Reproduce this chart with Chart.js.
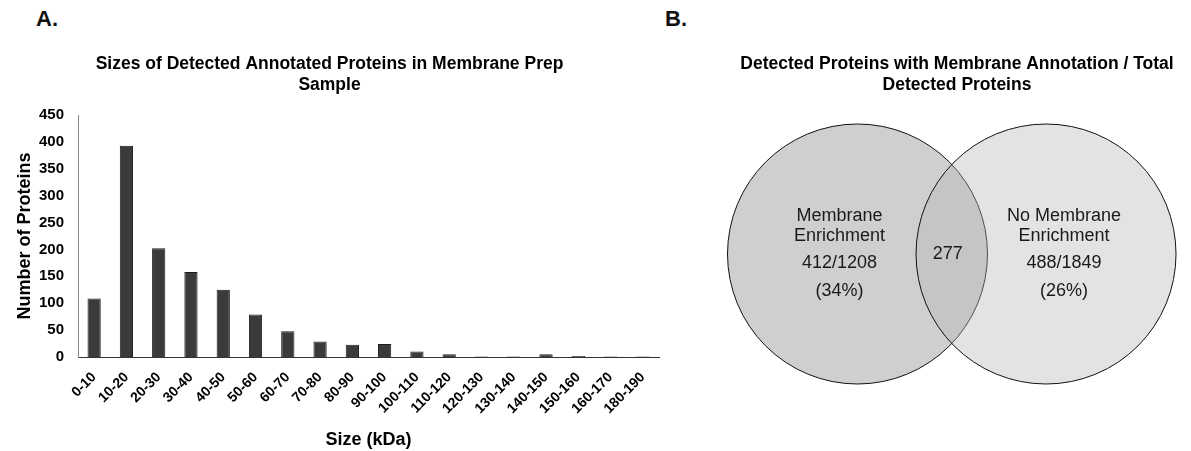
<!DOCTYPE html>
<html lang="en">
<head>
<meta charset="UTF-8">
<title>Membrane prep proteins</title>
<script src="https://cdn.jsdelivr.net/npm/chart.js"></script>
<style>
  body { margin: 0; background: #fff; width: 1191px; height: 451px; position: relative; overflow: hidden; font-family: "Liberation Sans", Arial, sans-serif; }
  .panel { position: absolute; font-weight: bold; font-size: 22px; color: #111; line-height: 26px; }
  #boxA { position: absolute; left: 0; top: 0; width: 700px; height: 451px; }
  #boxB { position: absolute; left: 700px; top: 0; width: 491px; height: 451px; }
</style>
</head>
<body>
<div class="panel" style="left:36px; top:6px;">A.</div>
<div class="panel" style="left:665px; top:6px;">B.</div>
<div id="boxA"><canvas id="barChart"></canvas></div>
<div id="boxB"><canvas id="vennChart"></canvas></div>

<script>
// --- panel A: protein size histogram
const sizeBins = ['0-10', '10-20', '20-30', '30-40', '40-50', '50-60', '60-70', '70-80', '80-90',
                  '90-100', '100-110', '110-120', '120-130', '130-140', '140-150', '150-160', '160-170', '180-190'];
const proteinCounts = [109, 393, 202, 158, 125, 79, 48, 29, 23, 24, 10, 5, 1, 1, 5, 2, 1, 1];
const countTicks = [0, 50, 100, 150, 200, 250, 300, 350, 400, 450];

// --- panel B: venn diagram
const vennNames = [['Membrane', 'Enrichment'], ['No Membrane', 'Enrichment']];
const vennFractions = ['412/1208', '488/1849'];
const vennPercents = ['(34%)', '(26%)'];
const vennOverlap = '277';

const FONT = '"Liberation Sans", Arial, Helvetica, sans-serif';
Chart.defaults.font.family = FONT;
Chart.defaults.color = '#000';

new Chart(document.getElementById('barChart'), {
    type: 'bar',
    data: {
        labels: sizeBins,
        datasets: [{
            data: proteinCounts,
            backgroundColor: '#3a3a3a',
            borderColor: '#1c1c1c',
            borderWidth: 1,
            barPercentage: 0.41,
            categoryPercentage: 1
        }]
    },
    options: {
        responsive: true,
        maintainAspectRatio: false,
        animation: false,
        events: [],
        layout: { padding: { left: 0, right: 41, top: 0, bottom: 0 } },
        plugins: {
            legend: { display: false },
            tooltip: { enabled: false },
            title: {
                display: true,
                text: ['Sizes of Detected Annotated Proteins in Membrane Prep', 'Sample'],
                font: { size: 17.5, weight: 'bold' },
                lineHeight: 1.143,
                color: '#000',
                padding: { top: 54, bottom: 19 }
            }
        },
        scales: {
            x: {
                grid: { display: false, drawTicks: false },
                border: { display: true, color: '#333', width: 1 },
                ticks: { maxRotation: 45, minRotation: 45, autoSkip: false, padding: 12,
                         font: { size: 14, weight: 'bold' } },
                title: { display: true, text: 'Size (kDa)', font: { size: 18, weight: 'bold' }, padding: { top: 4, bottom: 0 } },
                afterFit: s => { s.height = 94; }
            },
            y: {
                min: 0, max: 450,
                grid: { display: false, drawTicks: false },
                border: { display: true, color: '#888', width: 1 },
                afterBuildTicks: s => { s.ticks = countTicks.map(v => ({ value: v })); },
                ticks: { padding: 14, font: { size: 15, weight: 'bold' } },
                title: { display: true, text: 'Number of Proteins', font: { size: 18, weight: 'bold' }, padding: { top: 14, bottom: 0 } },
                afterFit: s => { s.width = 78; }
            }
        }
    }
});

// labels inside the venn circles, placed from the bubble positions
const vennText = {
    id: 'vennText',
    afterDatasetsDraw(chart) {
        const ctx = chart.ctx;
        const pts = chart.getDatasetMeta(0).data;
        ctx.save();
        ctx.fillStyle = '#1a1a1a';
        ctx.font = '18px ' + FONT;
        ctx.textAlign = 'center';
        ctx.textBaseline = 'middle';
        pts.forEach((p, i) => {
            const dx = i === 0 ? -18 : 18;
            ctx.fillText(vennNames[i][0], p.x + dx, p.y - 38);
            ctx.fillText(vennNames[i][1], p.x + dx, p.y - 18);
            ctx.fillText(vennFractions[i], p.x + dx, p.y + 9);
            ctx.fillText(vennPercents[i], p.x + dx, p.y + 37);
        });
        ctx.fillText(vennOverlap, (pts[0].x + pts[1].x) / 2 - 4, pts[0].y);
        ctx.restore();
    }
};

new Chart(document.getElementById('vennChart'), {
    type: 'bubble',
    data: {
        datasets: [{
            data: [{ x: 0, y: 0, r: 130 }, { x: 1, y: 0, r: 130 }],
            backgroundColor: ['rgb(208,207,208)', 'rgba(182,182,182,0.38)'],
            borderColor: '#111',
            borderWidth: 1,
            clip: false
        }]
    },
    options: {
        responsive: true,
        maintainAspectRatio: false,
        animation: false,
        events: [],
        layout: { autoPadding: false, padding: { left: 23, right: 0, top: 0, bottom: 49 } },
        plugins: {
            legend: { display: false },
            tooltip: { enabled: false },
            title: {
                display: true,
                text: ['Detected Proteins with Membrane Annotation / Total', 'Detected Proteins'],
                font: { size: 17.5, weight: 'bold' },
                lineHeight: 1.143,
                color: '#000',
                padding: { top: 54, bottom: 10 }
            }
        },
        scales: {
            x: { display: false, min: -0.7135, max: 1.769 },
            y: { display: false, min: -1, max: 1 }
        }
    },
    plugins: [vennText]
});
</script>
</body>
</html>
